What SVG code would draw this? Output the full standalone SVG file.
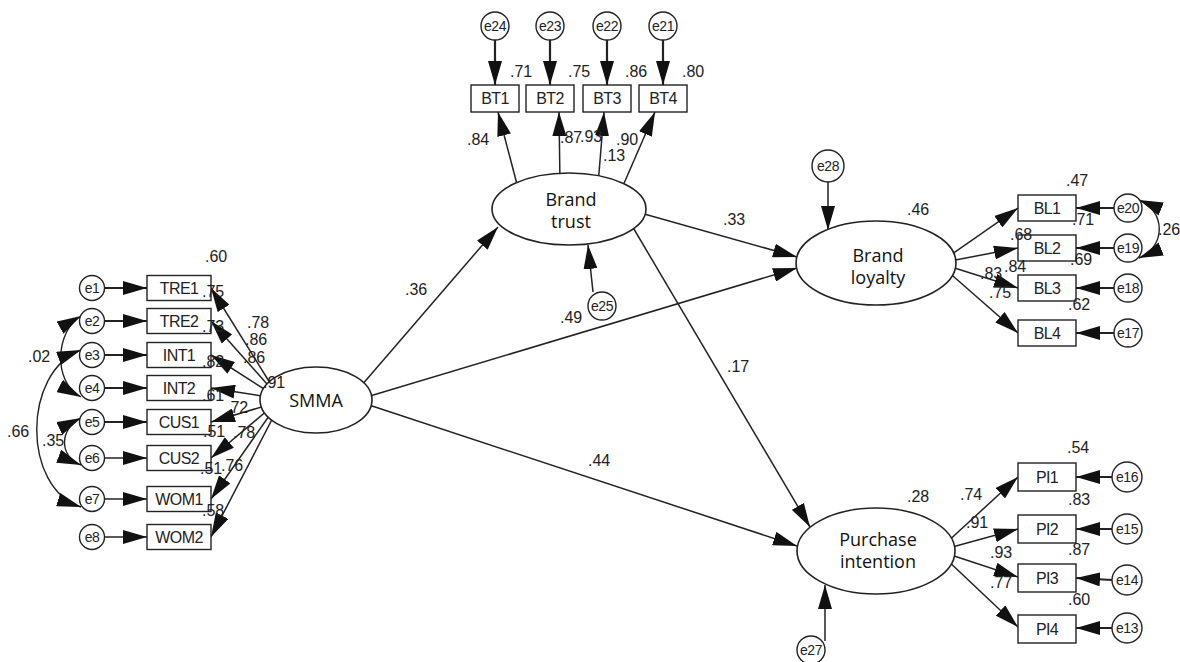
<svg xmlns="http://www.w3.org/2000/svg" width="1180" height="662" viewBox="0 0 1180 662">
<style>
.c{fill:#fff;stroke:#222;stroke-width:1.4}
.r{fill:#fff;stroke:#222;stroke-width:1.4}
.el{fill:#fff;stroke:#222;stroke-width:1.6}
.ln{fill:none;stroke:#222;stroke-width:1.5;marker-end:url(#ah)}
.lt{fill:none;stroke:#222;stroke-width:2.2;marker-end:url(#ah)}
.cv{fill:none;stroke:#222;stroke-width:1.4;marker-start:url(#ah);marker-end:url(#ah)}
.et{font-family:"Liberation Sans",Arial,sans-serif;font-size:14px;fill:#222;text-anchor:middle;letter-spacing:-0.5px}
.nt{font-family:"Liberation Sans",Arial,sans-serif;font-size:16px;fill:#222;text-anchor:middle;letter-spacing:-0.6px}
.lv{font-family:"Open Sans","Noto Sans",sans-serif;font-size:18px;fill:#111;text-anchor:middle}
.lb{font-family:"Liberation Sans",Arial,sans-serif;font-size:16px;fill:#222}
</style>
<defs>
<marker id="ah" markerUnits="userSpaceOnUse" markerWidth="24" markerHeight="14" viewBox="0 0 24 14" refX="24" refY="7" orient="auto-start-reverse">
<path d="M0,0 L24,7 L0,14 z" fill="#111"/>
</marker>
</defs>
<rect width="1180" height="662" fill="#fff"/>

<g id="connectors">
<line class="lt" x1="104" y1="288" x2="147" y2="288"/>
<line class="lt" x1="104" y1="321" x2="147" y2="321"/>
<line class="lt" x1="104" y1="355" x2="147" y2="355"/>
<line class="lt" x1="104" y1="388" x2="147" y2="388"/>
<line class="lt" x1="104" y1="422" x2="147" y2="422"/>
<line class="ln" x1="104" y1="458" x2="147" y2="458"/>
<line class="ln" x1="104" y1="499" x2="147" y2="499"/>
<line class="ln" x1="104" y1="537" x2="147" y2="537"/>
<path class="cv" d="M81,316 C56,330 52,382 81,397"/>
<path class="cv" d="M81,350 C22,372 22,488 81,507"/>
<path class="cv" d="M81,418 C60,428 58,456 81,465"/>
<line class="ln" x1="275" y1="391" x2="211" y2="288"/>
<line class="ln" x1="275" y1="393" x2="211" y2="321"/>
<line class="ln" x1="275" y1="396" x2="211" y2="355"/>
<line class="ln" x1="275" y1="398" x2="211" y2="388"/>
<line class="ln" x1="275" y1="403" x2="211" y2="422"/>
<line class="ln" x1="275" y1="404" x2="211" y2="458"/>
<line class="ln" x1="276" y1="406" x2="211" y2="499"/>
<line class="ln" x1="278" y1="408" x2="211" y2="537"/>
<line class="ln" x1="355" y1="393" x2="498" y2="227"/>
<line class="ln" x1="360" y1="399" x2="797" y2="268"/>
<line class="ln" x1="360" y1="402" x2="797" y2="546"/>
<line class="ln" x1="630" y1="210" x2="797" y2="257"/>
<line class="ln" x1="628" y1="219" x2="810" y2="527"/>
<line class="ln" x1="518" y1="188" x2="498" y2="112"/>
<line class="ln" x1="560" y1="185" x2="559" y2="112"/>
<line class="ln" x1="598" y1="185" x2="604" y2="112"/>
<line class="ln" x1="622" y1="188" x2="655" y2="112"/>
<line class="lt" x1="495" y1="40" x2="495" y2="85"/>
<line class="lt" x1="550" y1="40" x2="550" y2="85"/>
<line class="lt" x1="607" y1="40" x2="607" y2="85"/>
<line class="lt" x1="663" y1="40" x2="663" y2="85"/>
<line class="ln" x1="593" y1="292" x2="588" y2="245"/>
<line class="ln" x1="828" y1="182" x2="828" y2="230"/>
<line class="ln" x1="825" y1="641" x2="825" y2="585"/>
<line class="ln" x1="945" y1="259" x2="1018" y2="208"/>
<line class="ln" x1="945" y1="262" x2="1018" y2="248"/>
<line class="ln" x1="945" y1="265" x2="1018" y2="288"/>
<line class="ln" x1="945" y1="269" x2="1018" y2="333"/>
<line class="lt" x1="1114" y1="208" x2="1076" y2="208"/>
<line class="lt" x1="1114" y1="248" x2="1076" y2="248"/>
<line class="lt" x1="1114" y1="288" x2="1076" y2="288"/>
<line class="lt" x1="1114" y1="333" x2="1076" y2="333"/>
<path class="cv" d="M1139,200 C1166,211 1166,247 1139,258"/>
<line class="ln" x1="945" y1="544" x2="1018" y2="477"/>
<line class="ln" x1="945" y1="549" x2="1018" y2="529"/>
<line class="ln" x1="945" y1="553" x2="1018" y2="577"/>
<line class="ln" x1="945" y1="558" x2="1018" y2="627"/>
<line class="lt" x1="1112" y1="477" x2="1076" y2="477"/>
<line class="lt" x1="1112" y1="529" x2="1076" y2="529"/>
<line class="lt" x1="1112" y1="580" x2="1076" y2="578"/>
<line class="lt" x1="1112" y1="628" x2="1076" y2="628"/>
</g>

<g id="e1"><circle class="c" cx="92" cy="288" r="12.5"/><text class="et" x="92" y="293">e1</text></g>
<g id="e2"><circle class="c" cx="92" cy="321" r="12.5"/><text class="et" x="92" y="326">e2</text></g>
<g id="e3"><circle class="c" cx="92" cy="355" r="12.5"/><text class="et" x="92" y="360">e3</text></g>
<g id="e4"><circle class="c" cx="92" cy="388" r="12.5"/><text class="et" x="92" y="393">e4</text></g>
<g id="e5"><circle class="c" cx="92" cy="422" r="12.5"/><text class="et" x="92" y="427">e5</text></g>
<g id="e6"><circle class="c" cx="92" cy="458" r="12.5"/><text class="et" x="92" y="463">e6</text></g>
<g id="e7"><circle class="c" cx="92" cy="499" r="12.5"/><text class="et" x="92" y="504">e7</text></g>
<g id="e8"><circle class="c" cx="92" cy="537" r="12.5"/><text class="et" x="92" y="542">e8</text></g>

<g id="TRE1"><rect class="r" x="147" y="275.5" width="64" height="25"/><text class="nt" x="179" y="294">TRE1</text></g>
<g id="TRE2"><rect class="r" x="147" y="308.5" width="64" height="25"/><text class="nt" x="179" y="327">TRE2</text></g>
<g id="INT1"><rect class="r" x="147" y="342.5" width="64" height="25"/><text class="nt" x="179" y="361">INT1</text></g>
<g id="INT2"><rect class="r" x="147" y="375.5" width="64" height="25"/><text class="nt" x="179" y="394">INT2</text></g>
<g id="CUS1"><rect class="r" x="147" y="409.5" width="64" height="25"/><text class="nt" x="179" y="428">CUS1</text></g>
<g id="CUS2"><rect class="r" x="147" y="445.5" width="64" height="25"/><text class="nt" x="179" y="464">CUS2</text></g>
<g id="WOM1"><rect class="r" x="147" y="486.5" width="64" height="25"/><text class="nt" x="179" y="505">WOM1</text></g>
<g id="WOM2"><rect class="r" x="147" y="524.5" width="64" height="25"/><text class="nt" x="179" y="543">WOM2</text></g>

<g id="SMMA"><ellipse class="el" cx="316" cy="400" rx="56" ry="33"/><text class="lv" x="316" y="407" font-size="19">SMMA</text></g>
<g id="BrandTrust"><ellipse class="el" cx="569" cy="209" rx="77" ry="36"/><text class="lv" x="571" y="206">Brand</text><text class="lv" x="571" y="228">trust</text></g>
<g id="BrandLoyalty"><ellipse class="el" cx="876" cy="263" rx="80" ry="42"/><text class="lv" x="878" y="262">Brand</text><text class="lv" x="878" y="284">loyalty</text></g>
<g id="PurchaseIntention"><ellipse class="el" cx="876" cy="551" rx="79" ry="43"/><text class="lv" x="878" y="546">Purchase</text><text class="lv" x="878" y="568">intention</text></g>

<g id="e24"><circle class="c" cx="495" cy="26" r="14"/><text class="et" x="495" y="31">e24</text></g>
<g id="e23"><circle class="c" cx="550" cy="26" r="14"/><text class="et" x="550" y="31">e23</text></g>
<g id="e22"><circle class="c" cx="607" cy="26" r="14"/><text class="et" x="607" y="31">e22</text></g>
<g id="e21"><circle class="c" cx="663" cy="26" r="14"/><text class="et" x="663" y="31">e21</text></g>
<g id="BT1"><rect class="r" x="471" y="85" width="48" height="27"/><text class="nt" x="495" y="104">BT1</text></g>
<g id="BT2"><rect class="r" x="526" y="85" width="48" height="27"/><text class="nt" x="550" y="104">BT2</text></g>
<g id="BT3"><rect class="r" x="583" y="85" width="48" height="27"/><text class="nt" x="607" y="104">BT3</text></g>
<g id="BT4"><rect class="r" x="639" y="85" width="48" height="27"/><text class="nt" x="663" y="104">BT4</text></g>

<g id="e25"><circle class="c" cx="602" cy="306" r="14"/><text class="et" x="602" y="311">e25</text></g>
<g id="e28"><circle class="c" cx="828" cy="166" r="16"/><text class="et" x="828" y="171">e28</text></g>
<g id="e27"><circle class="c" cx="811" cy="650" r="14"/><text class="et" x="811" y="655">e27</text></g>

<g id="BL1"><rect class="r" x="1018" y="195" width="58" height="26"/><text class="nt" x="1047" y="214">BL1</text></g>
<g id="BL2"><rect class="r" x="1018" y="235" width="58" height="26"/><text class="nt" x="1047" y="254">BL2</text></g>
<g id="BL3"><rect class="r" x="1018" y="275" width="58" height="26"/><text class="nt" x="1047" y="294">BL3</text></g>
<g id="BL4"><rect class="r" x="1018" y="320" width="58" height="26"/><text class="nt" x="1047" y="339">BL4</text></g>
<g id="e20"><circle class="c" cx="1128" cy="208" r="14"/><text class="et" x="1128" y="213">e20</text></g>
<g id="e19"><circle class="c" cx="1128" cy="248" r="14"/><text class="et" x="1128" y="253">e19</text></g>
<g id="e18"><circle class="c" cx="1128" cy="288" r="14"/><text class="et" x="1128" y="293">e18</text></g>
<g id="e17"><circle class="c" cx="1128" cy="333" r="14"/><text class="et" x="1128" y="338">e17</text></g>

<g id="PI1"><rect class="r" x="1018" y="463" width="58" height="28"/><text class="nt" x="1047" y="483">PI1</text></g>
<g id="PI2"><rect class="r" x="1018" y="515" width="58" height="28"/><text class="nt" x="1047" y="535">PI2</text></g>
<g id="PI3"><rect class="r" x="1018" y="564" width="58" height="28"/><text class="nt" x="1047" y="584">PI3</text></g>
<g id="PI4"><rect class="r" x="1018" y="615" width="58" height="28"/><text class="nt" x="1047" y="635">PI4</text></g>
<g id="e16"><circle class="c" cx="1127" cy="477" r="15"/><text class="et" x="1127" y="482">e16</text></g>
<g id="e15"><circle class="c" cx="1127" cy="529" r="15"/><text class="et" x="1127" y="534">e15</text></g>
<g id="e14"><circle class="c" cx="1127" cy="580" r="15"/><text class="et" x="1127" y="585">e14</text></g>
<g id="e13"><circle class="c" cx="1127" cy="628" r="15"/><text class="et" x="1127" y="633">e13</text></g>

<g id="labels" class="lb">
<text x="205" y="262">.60</text>
<text x="202" y="297">.75</text>
<text x="247" y="328">.78</text>
<text x="245" y="345">.86</text>
<text x="202" y="332">.73</text>
<text x="243" y="363">.86</text>
<text x="202" y="367">.82</text>
<text x="263" y="388">.91</text>
<text x="202" y="401">.61</text>
<text x="226" y="413">.72</text>
<text x="203" y="437">.51</text>
<text x="233" y="438">.78</text>
<text x="200" y="474">.51</text>
<text x="221" y="471">.76</text>
<text x="202" y="516">.58</text>
<text x="28" y="362">.02</text>
<text x="7" y="437">.66</text>
<text x="42" y="446">.35</text>
<text x="405" y="295">.36</text>
<text x="560" y="323">.49</text>
<text x="723" y="225">.33</text>
<text x="727" y="372">.17</text>
<text x="588" y="466">.44</text>
<text x="907" y="215">.46</text>
<text x="907" y="502">.28</text>
<text x="510" y="77">.71</text>
<text x="568" y="77">.75</text>
<text x="625" y="77">.86</text>
<text x="682" y="77">.80</text>
<text x="467" y="145">.84</text>
<text x="560" y="143">.87</text>
<text x="580" y="142">.93</text>
<text x="603" y="161">.13</text>
<text x="616" y="145">.90</text>
<text x="1066" y="186">.47</text>
<text x="1072" y="225">.71</text>
<text x="1010" y="240">.68</text>
<text x="1070" y="265">.69</text>
<text x="980" y="279">.83</text>
<text x="1004" y="272">.84</text>
<text x="989" y="298">.75</text>
<text x="1068" y="310">.62</text>
<text x="1158" y="235">.26</text>
<text x="1067" y="453">.54</text>
<text x="960" y="500">.74</text>
<text x="1068" y="505">.83</text>
<text x="966" y="528">.91</text>
<text x="1068" y="555">.87</text>
<text x="990" y="558">.93</text>
<text x="990" y="588">.77</text>
<text x="1068" y="605">.60</text>
</g>
</svg>
